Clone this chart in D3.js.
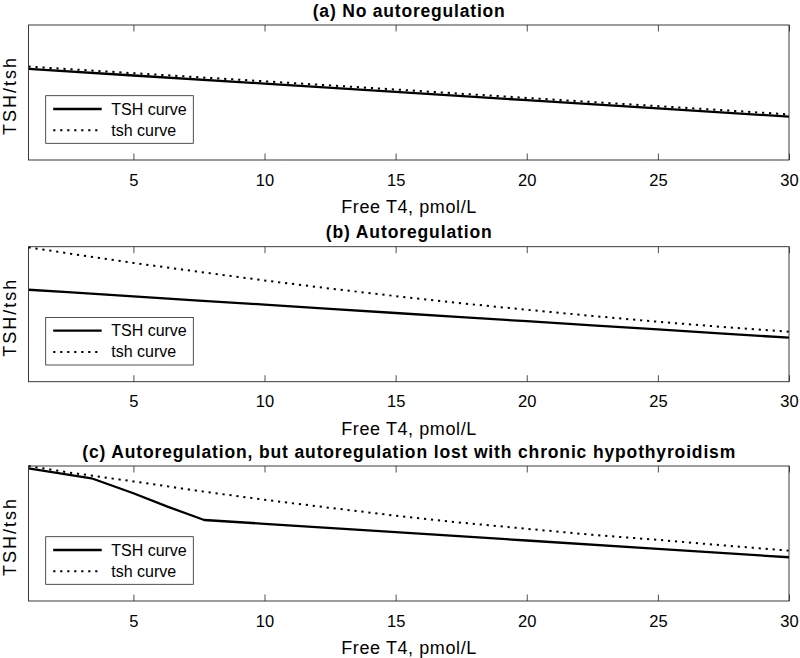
<!DOCTYPE html>
<html>
<head>
<meta charset="utf-8">
<script src="https://cdn.jsdelivr.net/npm/d3@7"></script>
<style>
  html, body { margin: 0; padding: 0; background: #fff; }
  svg { display: block; }
  text { font-family: "Liberation Sans", Arial, Helvetica, sans-serif; fill: #000; }
</style>
</head>
<body>
<svg id="chart" width="800" height="658"></svg>
<script>
// ---------- data ----------
const xTicks = [5, 10, 15, 20, 25, 30];
const panelTitles = [
  "(a) No autoregulation",
  "(b) Autoregulation",
  "(c) Autoregulation, but autoregulation lost with chronic hypothyroidism"
];
const legendLabels = ["TSH curve", "tsh curve"];
const xLabel = "Free T4, pmol/L";
const yLabel = "TSH/tsh";

// (a) no autoregulation
const noAutoX   = [1, 5, 10, 15, 20, 25, 30];
const noAutoTSH = [0.675, 0.626, 0.566, 0.505, 0.443, 0.382, 0.321];
const noAutoTsh = [0.692, 0.643, 0.583, 0.522, 0.460, 0.399, 0.338];

// (b) autoregulation
const autoX   = [1, 2.5, 5, 7.5, 10, 12.5, 15, 17.5, 20, 22.5, 25, 27.5, 30];
const autoTSH = [0.681, 0.663, 0.632, 0.601, 0.571, 0.540, 0.509, 0.478, 0.448, 0.417, 0.387, 0.356, 0.326];
const autoTsh = [0.995, 0.951, 0.880, 0.814, 0.750, 0.690, 0.634, 0.581, 0.533, 0.487, 0.444, 0.405, 0.370];

// (c) autoregulation lost with chronic hypothyroidism
const chronicX    = [1, 3.4, 5, 6.3, 7.7, 10, 15, 20, 25, 30];
const chronicTSH  = [0.983, 0.909, 0.798, 0.699, 0.600, 0.572, 0.510, 0.448, 0.386, 0.324];
const chronicTshX = [1, 2.5, 5, 7.5, 10, 12.5, 15, 17.5, 20, 22.5, 25, 27.5, 30];
const chronicTsh  = [1.000, 0.953, 0.886, 0.815, 0.750, 0.690, 0.632, 0.580, 0.535, 0.490, 0.453, 0.412, 0.373];

const xDomain = [1, 30];
const yDomain = [0, 1];

// ---------- layout ----------
const left = 28.5, right = 789;
const panelTops = [25, 246.7, 466];
const panelH = 135;
const titleWidths = [192, 166, 653];
const axisColor = "#262626";

const svg = d3.select("#chart");
const x = d3.scaleLinear().domain(xDomain).range([left, right]);

const panels = [
  { title: panelTitles[0], tsh: { x: noAutoX, y: noAutoTSH }, tshLower: { x: noAutoX, y: noAutoTsh } },
  { title: panelTitles[1], tsh: { x: autoX, y: autoTSH }, tshLower: { x: autoX, y: autoTsh } },
  { title: panelTitles[2], tsh: { x: chronicX, y: chronicTSH }, tshLower: { x: chronicTshX, y: chronicTsh } }
];

panels.forEach((p, i) => {
  const top = panelTops[i], bottom = top + panelH;
  const y = d3.scaleLinear().domain(yDomain).range([bottom, top]);
  const g = svg.append("g");

  const clipId = "clip" + i;
  svg.append("clipPath").attr("id", clipId)
    .append("rect").attr("x", left).attr("y", top - 1).attr("width", right - left).attr("height", panelH + 2);

  const line = d3.line().x(d => x(d[0])).y(d => y(d[1]));

  // dotted tsh curve
  g.append("path")
    .datum(d3.zip(p.tshLower.x, p.tshLower.y))
    .attr("clip-path", `url(#${clipId})`)
    .attr("d", line)
    .attr("fill", "none")
    .attr("stroke", "#000")
    .attr("stroke-width", 2)
    .attr("stroke-dasharray", "2.2,4.8");

  // solid TSH curve
  g.append("path")
    .datum(d3.zip(p.tsh.x, p.tsh.y))
    .attr("clip-path", `url(#${clipId})`)
    .attr("d", line)
    .attr("fill", "none")
    .attr("stroke", "#000")
    .attr("stroke-width", 2.3)
    .attr("stroke-linejoin", "round");

  // bottom axis with inward ticks
  const xAxisB = d3.axisBottom(x).tickValues(xTicks).tickSize(-6.5).tickPadding(14).tickFormat(d3.format("d"));
  const gb = g.append("g").attr("transform", `translate(0,${bottom})`).call(xAxisB);
  gb.select(".domain").remove();
  gb.selectAll(".tick line").attr("stroke", axisColor).attr("stroke-width", 0.8);
  gb.selectAll(".tick text").attr("font-size", 16.5).attr("fill", axisColor)
    .attr("font-family", '"Liberation Sans", Arial, sans-serif');

  // top axis inward ticks (no labels)
  const xAxisT = d3.axisTop(x).tickValues(xTicks).tickSize(-6.5).tickFormat("");
  const gt = g.append("g").attr("transform", `translate(0,${top})`).call(xAxisT);
  gt.select(".domain").remove();
  gt.selectAll(".tick line").attr("stroke", axisColor).attr("stroke-width", 0.8);

  // box
  g.append("rect")
    .attr("x", left).attr("y", top).attr("width", right - left).attr("height", panelH)
    .attr("fill", "none").attr("stroke", axisColor).attr("stroke-width", 0.9);

  // title
  g.append("text")
    .attr("x", (left + right) / 2).attr("y", top - 8.5)
    .attr("text-anchor", "middle")
    .attr("font-weight", "bold").attr("font-size", 17.5)
    .attr("textLength", titleWidths[i]).attr("lengthAdjust", "spacing")
    .text(p.title);

  // x label
  g.append("text")
    .attr("x", (left + right) / 2).attr("y", bottom + 53)
    .attr("text-anchor", "middle")
    .attr("font-size", 18).attr("fill", axisColor)
    .attr("textLength", 135).attr("lengthAdjust", "spacing")
    .text(xLabel);

  // y label
  g.append("text")
    .attr("transform", `translate(16,${top + panelH / 2 + 4}) rotate(-90)`)
    .attr("text-anchor", "middle")
    .attr("font-size", 18).attr("fill", axisColor)
    .attr("textLength", 77).attr("lengthAdjust", "spacing")
    .text(yLabel);

  // legend
  const lx = 45.7, ly = top + 70.7, lw = 147.6, lh = 47.6;
  const lg = g.append("g");
  lg.append("rect").attr("x", lx).attr("y", ly).attr("width", lw).attr("height", lh)
    .attr("fill", "#fff").attr("stroke", axisColor).attr("stroke-width", 0.8);
  const rows = [
    { label: legendLabels[0], dash: null, sw: 2.3, dy: 13.3 },
    { label: legendLabels[1], dash: "2.2,4.8", sw: 2, dy: 34.5 }
  ];
  rows.forEach(r => {
    lg.append("line")
      .attr("x1", lx + 7.5).attr("x2", lx + 56).attr("y1", ly + r.dy).attr("y2", ly + r.dy)
      .attr("stroke", "#000").attr("stroke-width", r.sw)
      .attr("stroke-dasharray", r.dash);
    lg.append("text")
      .attr("x", lx + 65.5).attr("y", ly + r.dy + 5.5)
      .attr("font-size", 16).attr("fill", "#000")
      .text(r.label);
  });
});
</script>
</body>
</html>
